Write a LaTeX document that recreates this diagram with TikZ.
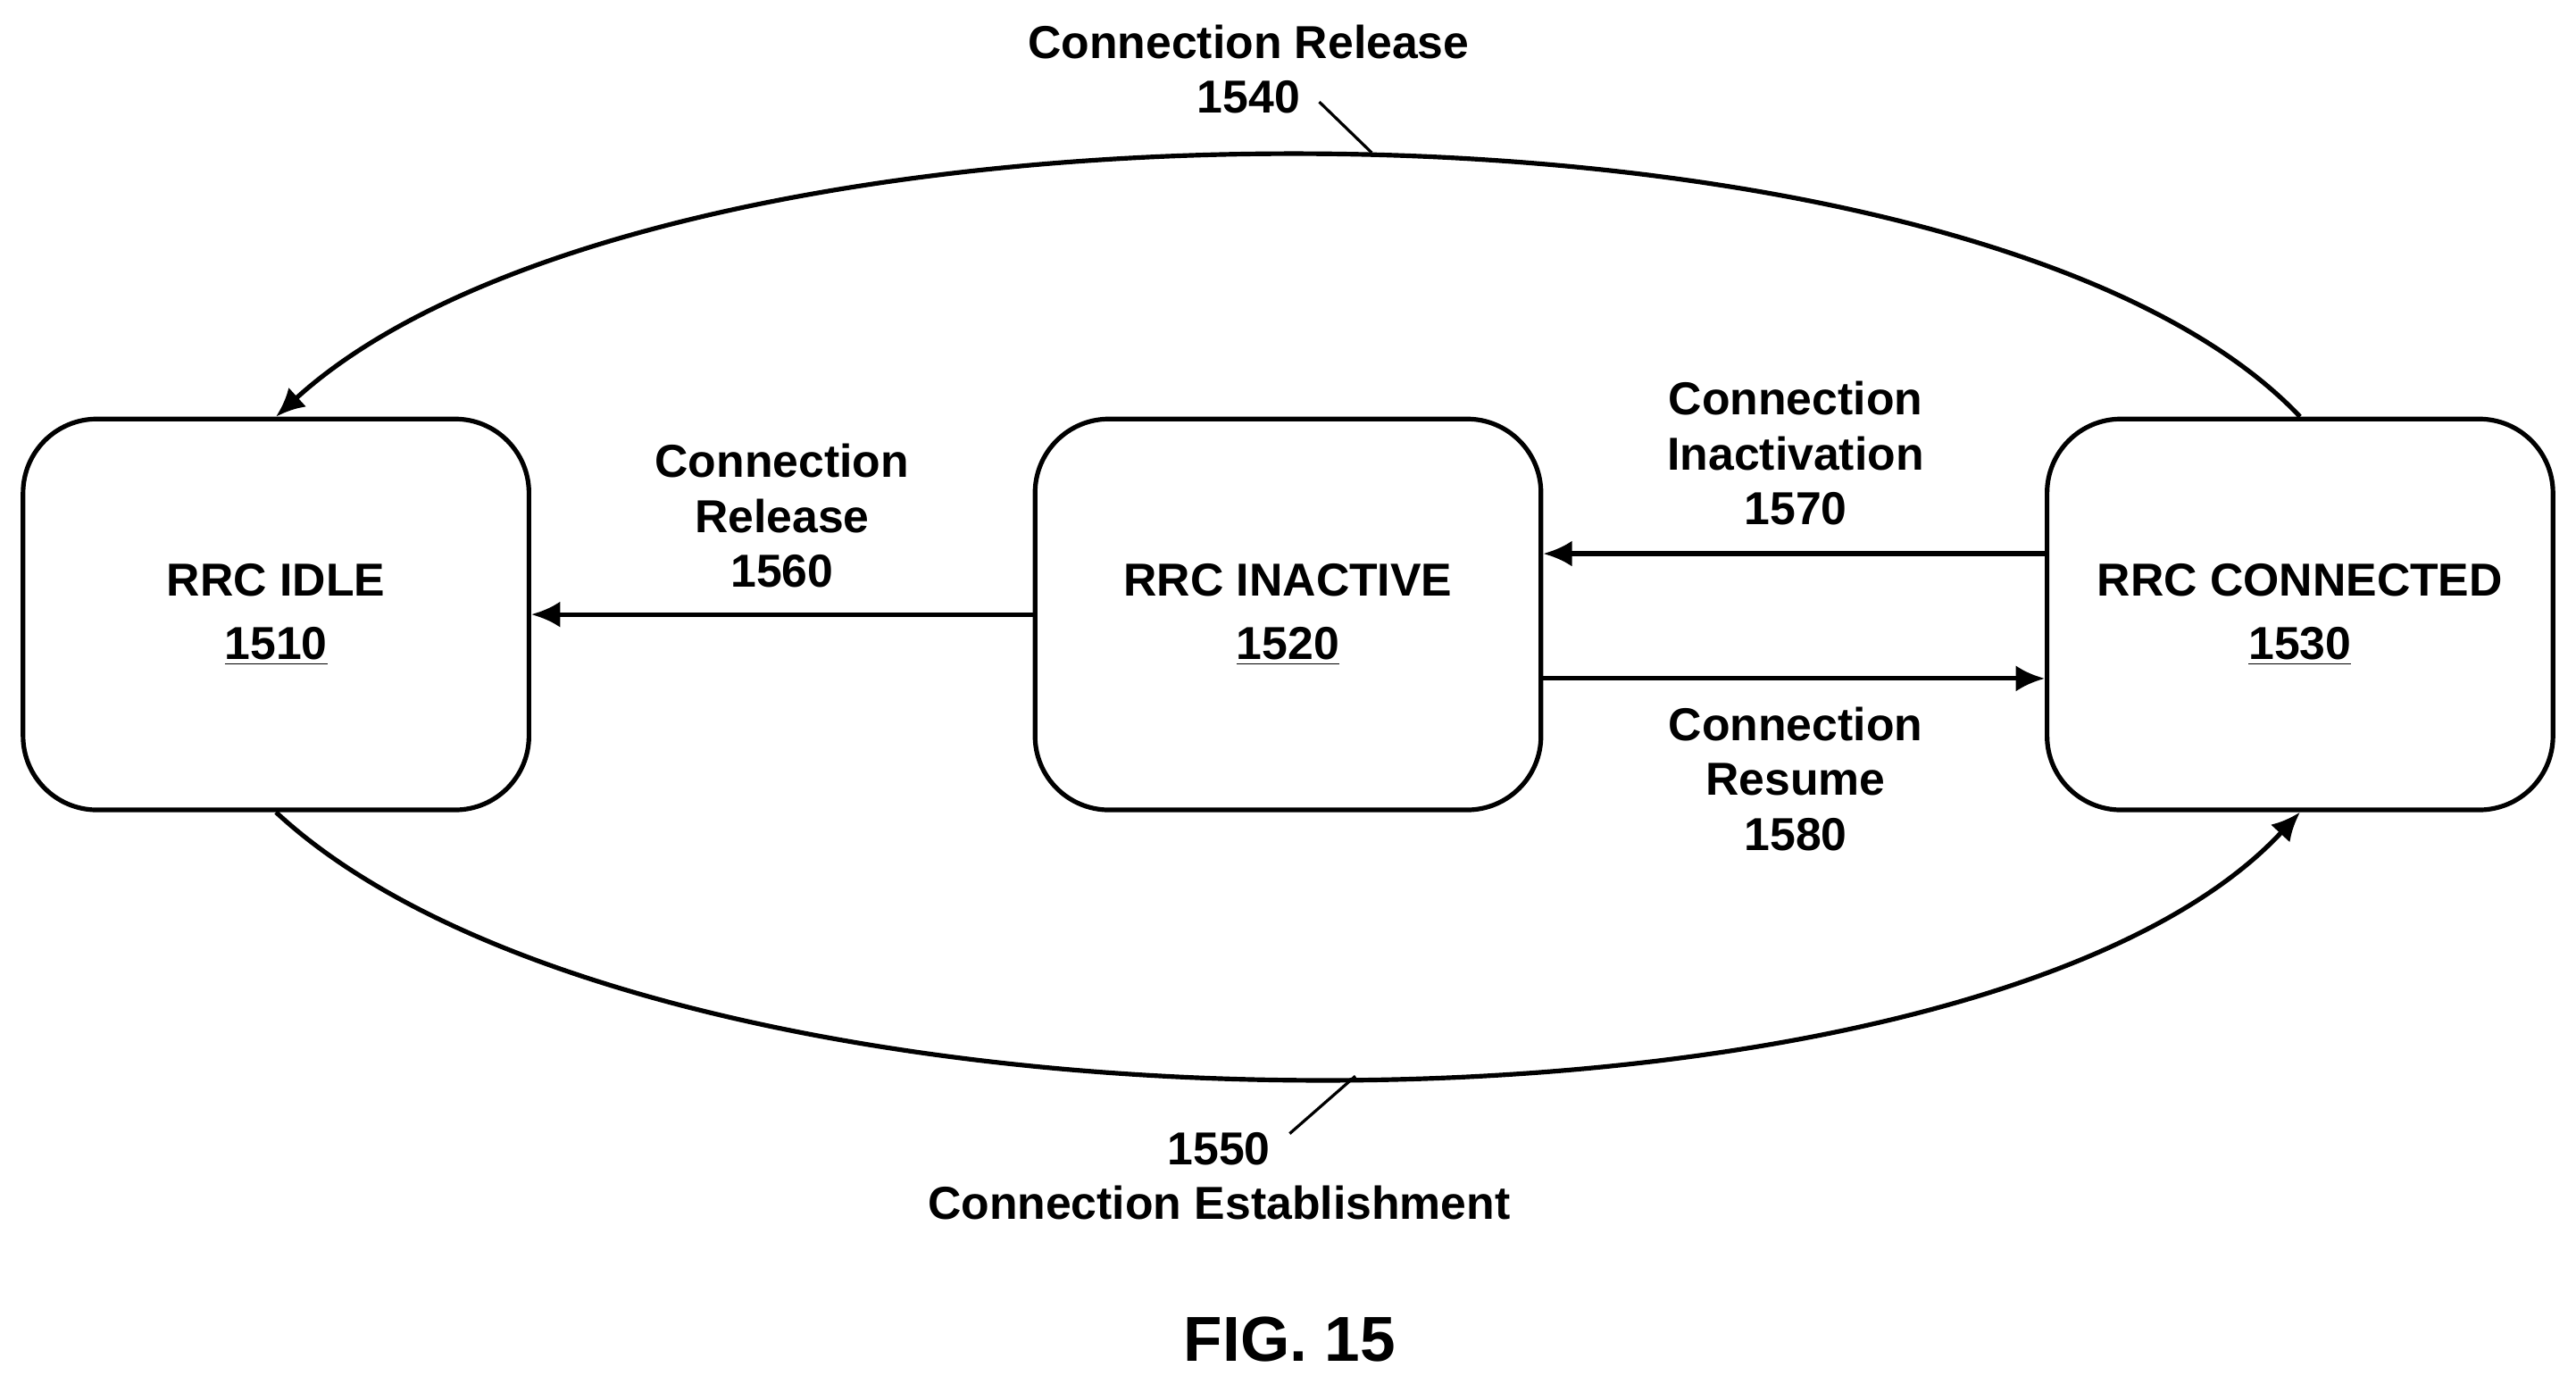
\documentclass[tikz,border=0pt]{standalone}
\usepackage{fontspec}
\setmainfont{Liberation Sans}
\usetikzlibrary{arrows.meta}
\begin{document}
\begin{tikzpicture}[x=0.02cm,y=-0.02cm,
  state/.style={draw,line width=1.6pt,rounded corners=0.9cm,minimum width=6.16cm,minimum height=4.76cm,align=center,font=\fontsize{16}{19}\selectfont\bfseries},
  lbl/.style={align=center,font=\fontsize{16}{19}\selectfont\bfseries},
  conn/.style={line width=1.6pt,-{Latex[length=10pt,width=9pt]}},
  lead/.style={line width=1pt}]
\useasboundingbox (0,0) rectangle (1568,842);
\node[state] (idle) at (168,374) {RRC IDLE\\[3pt]\underline{1510}};
\node[state] (inact) at (784,374) {RRC INACTIVE\\[3pt]\underline{1520}};
\node[state] (conn) at (1400,374) {RRC CONNECTED\\[3pt]\underline{1530}};
\draw[conn] (inact.west) -- (idle.east);
\draw[conn] (conn.west|-0,337) -- (inact.east|-0,337);
\draw[conn] (inact.east|-0,413) -- (conn.west|-0,413);
\draw[conn] (conn.north) .. controls (1200,42) and (400,42) .. (idle.north);
\draw[conn] (idle.south) .. controls (400,710) and (1200,710) .. (conn.south);
\node[lbl] (t1) at (760,42) {Connection Release\\1540};
\coordinate (a1) at (803,62); \coordinate (b1) at (835,93);
\draw[lead] (a1) -- (b1);
\node[lbl] (t2) at (742,716) {1550\\Connection Establishment};
\coordinate (a2) at (785,690); \coordinate (b2) at (825,655);
\draw[lead] (a2) -- (b2);
\node[lbl] (t3) at (476,314) {Connection\\Release\\1560};
\node[lbl] (t4) at (1093,276) {Connection\\Inactivation\\1570};
\node[lbl] (t5) at (1093,474) {Connection\\Resume\\1580};
\node[font=\fontsize{22}{26}\selectfont\bfseries] (fig) at (785,815) {FIG. 15};
\end{tikzpicture}
\end{document}
